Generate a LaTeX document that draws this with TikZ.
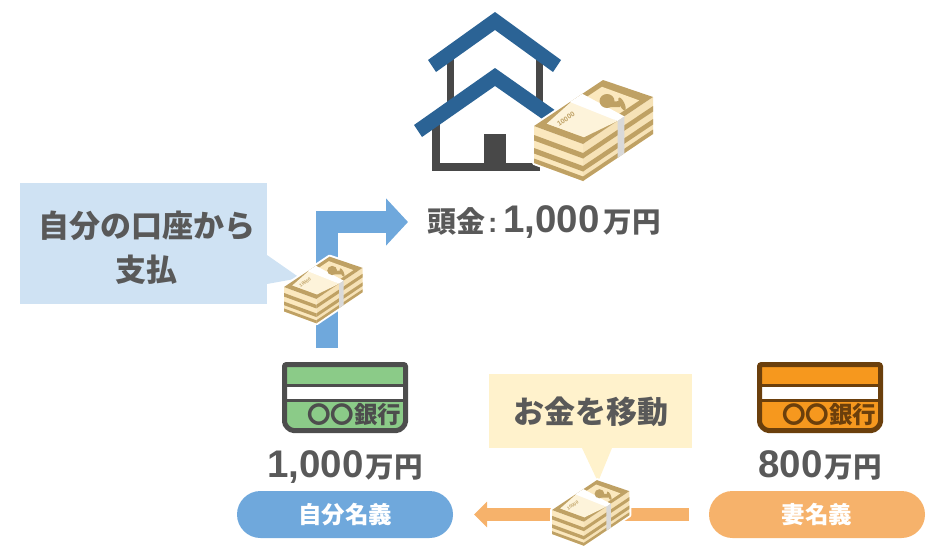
\documentclass[tikz,border=0pt]{standalone}
\usepackage{fontspec}
\setmainfont{Liberation Sans}
\newfontfamily\jp{Noto Sans CJK JP}
\usetikzlibrary{positioning,arrows.meta,calc}
\definecolor{txtgray}{HTML}{595959}
\definecolor{roofblue}{HTML}{2B6395}
\definecolor{walldark}{HTML}{484848}
\definecolor{billtan}{HTML}{BFA164}
\definecolor{billcream}{HTML}{FBE8BE}
\definecolor{billlight}{HTML}{FDF3DA}
\definecolor{notegray}{HTML}{D9D9D9}
\definecolor{noteblue}{HTML}{CFE2F3}
\definecolor{noteyellow}{HTML}{FFF2CC}
\definecolor{flowblue}{HTML}{6FA8DC}
\definecolor{floworange}{HTML}{F6B26B}
\definecolor{cardgreen}{HTML}{8BCB88}
\definecolor{cardline}{HTML}{4D4D4D}
\definecolor{cardorange}{HTML}{F6981E}
\definecolor{cardbrown}{HTML}{6B3F0C}
\newcommand{\bignum}[1]{{\fontsize{38.5}{40}\selectfont\bfseries #1}}
\newcommand{\manyen}{{\jp\fontsize{28.5}{30}\selectfont\bfseries 万円}}
\tikzstyle{label}=[inner sep=0pt,outer sep=0pt,text=txtgray]
\tikzstyle{note}=[style=label,align=center,font=\jp\bfseries\fontsize{31}{44}\selectfont]
\tikzstyle{namepill}=[inner sep=0pt,outer sep=0pt,rounded corners=23.5pt,minimum width=216pt,minimum height=47pt,
    text=white,font=\jp\bfseries\fontsize{23.5}{25}\selectfont]
\tikzstyle{payflow}=[draw=flowblue,line width=22pt,-{Triangle[length=22pt,width=46pt]}]
\tikzstyle{moveflow}=[draw=floworange,line width=13pt,-{Triangle[length=13pt,width=25pt]}]
\tikzset{
    pics/billstack/.style={code={
        \fill[white,draw=white,line width=4pt,line join=round] (0,0)--(69,-46)--(119,-29)--(119,8)--(49,55)--(0,37)--cycle;
        \fill[billcream] (0,0)--(49,18)--(49,55)--(0,37)--cycle;
        \fill[billcream!92!billtan] (49,18)--(119,-29)--(119,8)--(49,55)--cycle;
        \foreach \a/\b in {9/14.5,22/27.5,32.5/37}{
            \fill[billtan] (0,\a)--(49,18+\a)--(49,18+\b)--(0,\b)--cycle;
            \fill[billtan] (49,18+\a)--(119,-29+\a)--(119,-29+\b)--(49,18+\b)--cycle;
        }
        \fill[billtan] (0,0)--(69,-46)--(119,-29)--(49,18)--cycle;
        \fill[billcream] (12.8,-2.4)--(68,-39.2)--(105.2,-25.6)--(50,11.2)--cycle;
        \fill[billlight] (40,-26.7)--(12.8,-2.4)--(50,11.2)--(83.5,-5)--cycle;
        \fill[white] (36,-24)--(48.3,-32.2)--(90.4,-9.6)--(83.5,-5)--cycle;
        \fill[notegray] (83.5,-5)--(90.4,-9.6)--(90.4,27.4)--(83.5,32)--cycle;
        \fill[billtan] (73,-25) ellipse [x radius=7.5,y radius=7];
        \fill[billtan] (74,-24)--(86,-25)--(86,-19)--(76,-19)--cycle;
        \fill[billtan,rotate around={-65:(88,-22)}] (88,-22) ellipse [x radius=7,y radius=2.5];
        \node[rotate=33,transform shape,inner sep=0pt,text=billtan,font=\bfseries\fontsize{7}{7}\selectfont] (-mark) at (32,-7) {10000};
    }},
    pics/bankcard/.style 2 args={code={
        \node[inner sep=0pt,outer sep=0pt,minimum width=126pt,minimum height=71pt] (-body) {};
        \fill[#1] (-61,-33)--(61,-33)--(61,22) arc[start angle=0,end angle=90,radius=11]
            --(-50,33) arc[start angle=90,end angle=180,radius=11]--cycle;
        \fill[white] (-61,-12)--(61,-12)--(61,1.5)--(-61,1.5)--cycle;
        \draw[#2,line width=3pt] (-61,-12)--(61,-12) (-61,3)--(61,3);
        \draw[#2,line width=5pt,rounded corners=2pt] (-60.5,-33)--(60.5,-33)--(60.5,22)
            arc[start angle=0,end angle=90,radius=11]--(-49.5,33)
            arc[start angle=90,end angle=180,radius=11]--cycle;
        \node[inner sep=0pt,text=#2,font=\jp\bfseries\fontsize{23.5}{25}\selectfont] (-bank) at (9,17) {〇〇銀行};
    }}
}
\begin{document}
\begin{tikzpicture}[x=1pt,y=-1pt]
    \useasboundingbox (0,0) rectangle (945,552);
    \fill[walldark] (447,58) rectangle (454,105);
    \fill[walldark] (536,58) rectangle (543,105);
    \fill[roofblue] (495,12)--(561,60)--(553,72)--(495,30)--(436,72)--(428,60)--cycle;
    \fill[walldark] (432,115) rectangle (440,171);
    \fill[walldark] (432,163) rectangle (540,171);
    \fill[walldark] (484,134) rectangle (506,163);
    \fill[roofblue] (495,68)--(576,125)--(568,137)--(495,86)--(422,137)--(414,125)--cycle;
    \pic at (534,126) {billstack};
    \node[label,anchor=west] (downpay) at (427,222) {{\jp\bfseries\fontsize{29}{30}\selectfont 頭金}{\bfseries\fontsize{28}{30}\selectfont\hspace{3pt}:\hspace{6pt}}\bignum{1,000}\hspace{4pt}\manyen};
    \pic (mycard) at (345,397.5) {bankcard={cardgreen}{cardline}};
    \pic (wifecard) at (820,397.5) {bankcard={cardorange}{cardbrown}};
    \node[label,below=18pt of mycard-body] (myamount) {\bignum{1,000}\hspace{2pt}\manyen};
    \node[label,below=18pt of wifecard-body] (wifeamount) {\bignum{800}\hspace{2pt}\manyen};
    \node[namepill,fill=flowblue] (myname) at (345,514.5) {自分名義};
    \node[namepill,fill=floworange] (wifename) at (817,514.5) {妻名義};
    \coordinate (payfrom) at ([xshift=-18pt]mycard-body.north);
    \draw[payflow,shorten <=14pt,shorten >=19pt] (payfrom) |- (downpay.west);
    \draw[moveflow,shorten <=20pt,shorten >=21pt] (wifename.west) -- (myname.east);
    \node[fill=noteblue,inner sep=0pt,outer sep=0pt,minimum width=247pt,minimum height=121pt] (paynote) at (143.5,243.5) {};
    \node[note,xshift=3pt,yshift=-4pt] (paytext) at (paynote) {自分の口座から\\支払};
    \fill[noteblue] (paynote.east |- 0,255) -- (300,278) -- (paynote.east |- 0,284) -- cycle;
    \node[fill=noteyellow,inner sep=0pt,outer sep=0pt,minimum width=203pt,minimum height=74pt] (movenote) at (590.5,411) {};
    \node[note,yshift=-1pt] (movetext) at (movenote) {お金を移動};
    \fill[noteyellow] (582,448) -- (598,482) -- (612,448) -- cycle;
    \pic[scale=.66] at (284,287) {billstack};
    \pic[scale=.65] at (552,510) {billstack};
\end{tikzpicture}
\end{document}
